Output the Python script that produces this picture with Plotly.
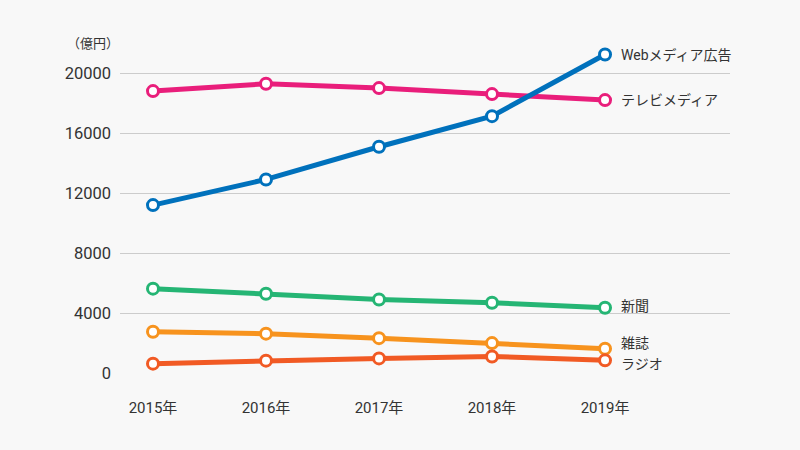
import plotly.graph_objects as go

years = ["2015年", "2016年", "2017年", "2018年", "2019年"]
web = [11240, 12950, 15130, 17170, 21280]
tv = [18840, 19330, 19040, 18640, 18240]
newspaper = [5670, 5330, 4950, 4730, 4400]
magazine = [2800, 2670, 2370, 2040, 1670]
radio = [670, 870, 1020, 1150, 890]

series = [
    ("テレビメディア", tv, "#e91e7b", 0),
    ("新聞", newspaper, "#25b574", 2),
    ("雑誌", magazine, "#f7931e", 6),
    ("ラジオ", radio, "#f15a24", -4),
    ("Webメディア広告", web, "#0071bc", 0),
]

x_idx = list(range(len(years)))
fig = go.Figure()
font_fam = "Roboto, 'Noto Sans CJK JP', sans-serif"

for name, vals, color, yshift in series:
    fig.add_trace(go.Scatter(
        x=x_idx, y=vals, mode="lines+markers", name=name,
        line=dict(color=color, width=5),
        marker=dict(size=11, color="white", line=dict(color=color, width=3)),
        cliponaxis=False, showlegend=False, hoverinfo="skip",
    ))
    fig.add_annotation(
        x=x_idx[-1], y=vals[-1], text=name, showarrow=False,
        xanchor="left", yanchor="middle", xshift=14, yshift=yshift,
        font=dict(family=font_fam, size=14, color="#333333"),
    )

fig.add_annotation(
    xref="paper", yref="paper", x=0.002, y=0.992, text="（億円）",
    showarrow=False, xanchor="right", yanchor="middle",
    font=dict(family=font_fam, size=13, color="#333333"),
)

fig.update_layout(
    width=800, height=450,
    margin=dict(l=120, r=70, t=41, b=76),
    paper_bgcolor="#f8f8f8", plot_bgcolor="#f8f8f8",
    font=dict(family=font_fam, color="#333333"),
    xaxis=dict(
        range=[-0.292, 5.106], tickvals=x_idx, ticktext=years,
        showgrid=False, zeroline=False, showline=False,
        ticks="", ticklabelstandoff=23,
        tickfont=dict(size=15, color="#333333"),
    ),
    yaxis=dict(
        range=[-20, 22180], tickvals=[0, 4000, 8000, 12000, 16000, 20000],
        tickformat="d",
        showgrid=True, gridcolor="#cccccc", gridwidth=1,
        zeroline=False, showline=False, ticks="", ticklabelstandoff=8,
        tickfont=dict(size=16.5, color="#333333"),
    ),
)

fig.write_html("out.html", config={"displayModeBar": False},
               post_script="document.body.style.margin='0';")
